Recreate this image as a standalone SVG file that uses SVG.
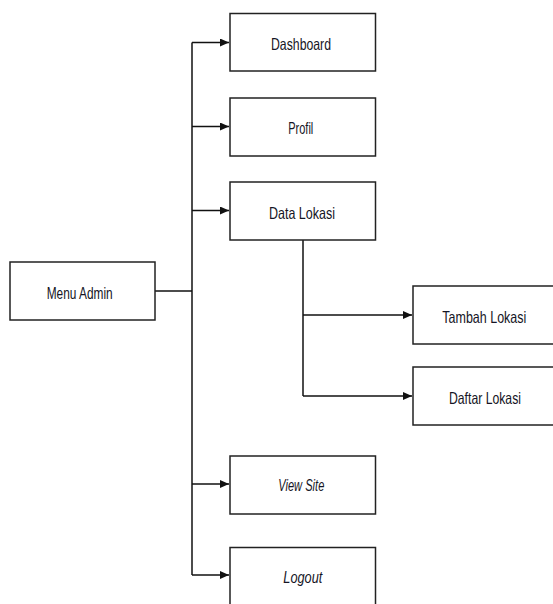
<svg xmlns="http://www.w3.org/2000/svg" width="553" height="604" viewBox="0 0 553 604">
<style>
.box{fill:#fff;stroke:#222;stroke-width:1.5}
.t{font-family:"Liberation Sans",Arial,sans-serif;font-size:16.5px;fill:#151525}
.i{font-style:italic}
.c{fill:none;stroke:#111;stroke-width:1.5}
</style>
<defs>
<marker id="ah" markerWidth="9" markerHeight="8" refX="9" refY="4" orient="auto" markerUnits="userSpaceOnUse">
<path d="M0,0 L9,4 L0,8 Z" fill="#111"/>
</marker>
</defs>
<rect width="553" height="604" fill="#fff"/>
<g id="connectors">
<path class="c" d="M155,291 H192"/>
<path class="c" d="M192,42.5 V575"/>
<path class="c" d="M192,42.5 H229" marker-end="url(#ah)"/>
<path class="c" d="M192,126.5 H229" marker-end="url(#ah)"/>
<path class="c" d="M192,210.5 H229" marker-end="url(#ah)"/>
<path class="c" d="M192,484 H229" marker-end="url(#ah)"/>
<path class="c" d="M192,575 H229" marker-end="url(#ah)"/>
<path class="c" d="M303,240 V396"/>
<path class="c" d="M303,315 H412" marker-end="url(#ah)"/>
<path class="c" d="M303,396 H412" marker-end="url(#ah)"/>
</g>
<g id="menu-admin"><rect class="box" x="10" y="262" width="145" height="58"/><text class="t" x="46.7" y="299" textLength="66" lengthAdjust="spacingAndGlyphs">Menu Admin</text></g>
<g id="dashboard"><rect class="box" x="230" y="13.5" width="145.5" height="57.5"/><text class="t" x="271" y="50" textLength="60" lengthAdjust="spacingAndGlyphs">Dashboard</text></g>
<g id="profil"><rect class="box" x="230" y="98" width="145.5" height="58"/><text class="t" x="288.3" y="134.3" textLength="25" lengthAdjust="spacingAndGlyphs">Profil</text></g>
<g id="data-lokasi"><rect class="box" x="230" y="182" width="145.5" height="58"/><text class="t" x="269" y="219" textLength="66" lengthAdjust="spacingAndGlyphs">Data Lokasi</text></g>
<g id="tambah-lokasi"><rect class="box" x="413" y="286" width="145" height="58"/><text class="t" x="442.3" y="323" textLength="84" lengthAdjust="spacingAndGlyphs">Tambah Lokasi</text></g>
<g id="daftar-lokasi"><rect class="box" x="413" y="367" width="145" height="58"/><text class="t" x="449" y="404" textLength="72" lengthAdjust="spacingAndGlyphs">Daftar Lokasi</text></g>
<g id="view-site"><rect class="box" x="230" y="456" width="145.5" height="58"/><text class="t i" x="278.3" y="491" textLength="46" lengthAdjust="spacingAndGlyphs">View Site</text></g>
<g id="logout"><rect class="box" x="230" y="547.5" width="145.5" height="60"/><text class="t i" x="283.3" y="583" textLength="39" lengthAdjust="spacingAndGlyphs">Logout</text></g>
</svg>
